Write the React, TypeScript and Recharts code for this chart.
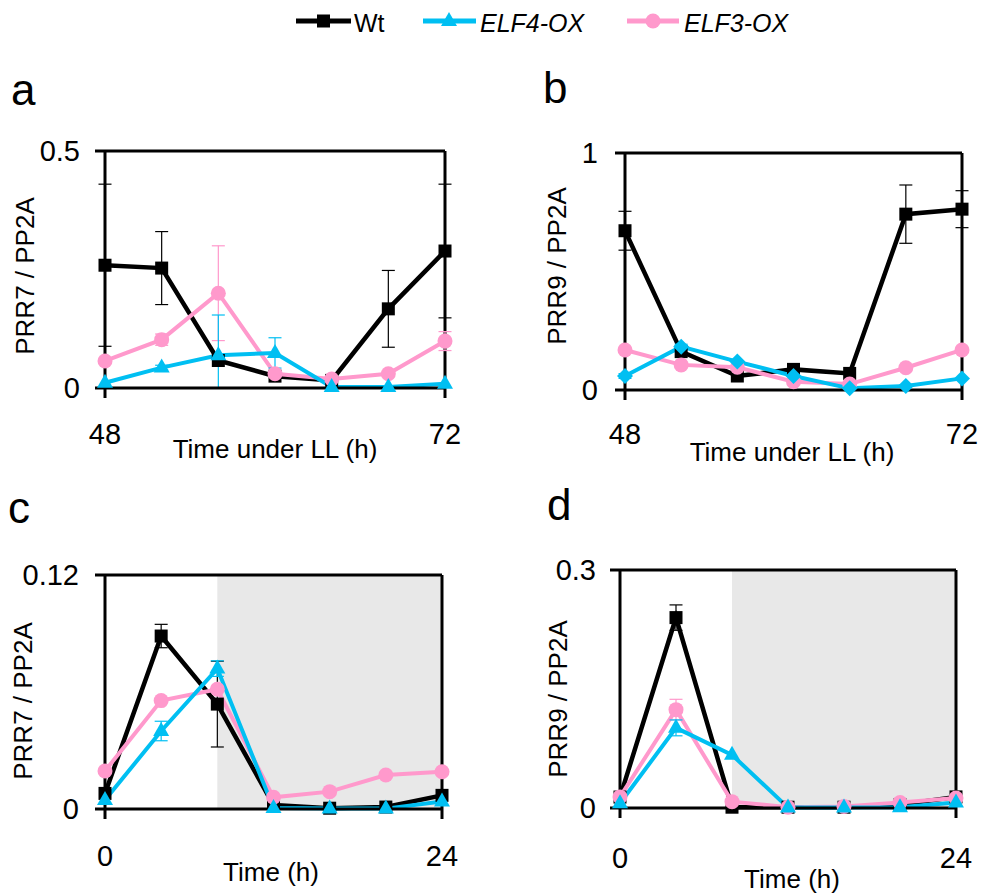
import React from "react";
import { LineChart, Line, XAxis, YAxis, ErrorBar, ReferenceLine, ReferenceArea, Label } from "recharts";

const FONT = '"Liberation Sans", Arial, sans-serif';
const BLACK = "#000000";
const CYAN = "#00bff2";
const PINK = "#ff99cc";

const hoursLL = [48, 52, 56, 60, 64, 68, 72];
const hoursLD = [0, 4, 8, 12, 16, 20, 24];

// a: PRR7 / PP2A under LL
const aWt = [0.259, 0.253, 0.058, 0.025, 0.016, 0.167, 0.289];
const aWtErr = [0.171, 0.077, 0, 0, 0, 0.081, 0.141];
const aElf4 = [0.011, 0.043, 0.069, 0.074, 0.002, 0.002, 0.009];
const aElf4Err: (number | number[])[] = [0, 0.005, [0.069, 0.085], 0.032, 0, 0, 0];
const aElf3 = [0.057, 0.102, 0.2, 0.03, 0.019, 0.03, 0.099];
const aElf3Err = [0, 0.012, 0.1, 0, 0, 0, 0.02];

// b: PRR9 / PP2A under LL
const bWt = [0.672, 0.162, 0.059, 0.087, 0.07, 0.742, 0.763];
const bWtErr = [0.082, 0, 0, 0, 0, 0.123, 0.078];
const bElf4 = [0.059, 0.183, 0.12, 0.059, 0.007, 0.017, 0.049];
const bElf4Err = [0.01, 0.01, 0, 0, 0, 0, 0];
const bElf3 = [0.169, 0.106, 0.096, 0.035, 0.025, 0.094, 0.169];
const bElf3Err = [0, 0, 0, 0, 0, 0, 0];

// c: PRR7 / PP2A under LD
const cWt = [0.008, 0.0887, 0.0538, 0.002, 0.0004, 0.001, 0.007];
const cWtErr = [0, 0.006, 0.022, 0, 0, 0, 0];
const cElf4 = [0.0046, 0.04, 0.072, 0.0005, 0.0002, 0.0002, 0.0038];
const cElf4Err = [0, 0.005, 0.004, 0, 0, 0, 0];
const cElf3 = [0.0195, 0.0556, 0.0614, 0.006, 0.0089, 0.0174, 0.0191];
const cElf3Err = [0, 0, 0, 0, 0, 0, 0];

// d: PRR9 / PP2A under LD
const dWt = [0.0138, 0.24, 0.001, 0.001, 0.001, 0.004, 0.014];
const dWtErr = [0, 0.016, 0, 0, 0, 0, 0];
const dElf4 = [0.006, 0.101, 0.067, 0.0005, 0.0005, 0.001, 0.007];
const dElf4Err = [0, 0.01, 0, 0, 0, 0, 0];
const dElf3 = [0.014, 0.124, 0.008, 0.001, 0.002, 0.007, 0.0126];
const dElf3Err = [0, 0.013, 0, 0, 0, 0, 0];

const nz = (e: number | number[]) => (Array.isArray(e) ? e : e ? e : null);

function rows(t: number[], wt: number[], wtE: any[], e4: number[], e4E: any[], e3: number[], e3E: any[]) {
  return t.map((h, i) => ({
    t: h,
    wt: wt[i],
    wtErr: nz(wtE[i]),
    elf4: e4[i],
    elf4Err: nz(e4E[i]),
    elf3: e3[i],
    elf3Err: nz(e3E[i]),
  }));
}

const squareDot = (p: any) => (
  <rect key={`s${p.index}`} x={p.cx - 6.5} y={p.cy - 6.5} width={13} height={13} fill={BLACK} />
);
const triDot = (p: any) => (
  <polygon key={`t${p.index}`} points={`${p.cx},${p.cy - 9} ${p.cx - 8},${p.cy + 5} ${p.cx + 8},${p.cy + 5}`} fill={CYAN} />
);
const diamondDot = (p: any) => (
  <polygon key={`d${p.index}`} points={`${p.cx},${p.cy - 8} ${p.cx + 8},${p.cy} ${p.cx},${p.cy + 8} ${p.cx - 8},${p.cy}`} fill={CYAN} />
);
const circleDot = (p: any) => <circle key={`c${p.index}`} cx={p.cx} cy={p.cy} r={7.5} fill={PINK} />;

type PanelProps = {
  data: any[];
  x0: number; x1: number; y0: number; y1: number;
  xDomain: [number, number];
  yMax: number;
  yLabel: string;
  xLabel: string;
  yTickMargin: number;
  xTickMargin: number;
  yLabelAt: [number, number];
  xLabelAt: [number, number];
  diamond?: boolean;
  shadeFrom?: number;
  elf3OnTop?: boolean;
};

function Panel(p: PanelProps) {
  const left = p.x0 - 100;
  const top = p.y0 - 20;
  const width = p.x1 - p.x0 + 130;
  const height = p.y1 - p.y0 + 110;
  const tickStyle = { fontSize: 29, fill: BLACK, fontFamily: FONT };
  const elf4 = (
    <Line key="e4" dataKey="elf4" stroke={CYAN} strokeWidth={4} dot={p.diamond ? diamondDot : triDot} activeDot={false} isAnimationActive={false}>
      <ErrorBar dataKey="elf4Err" direction="y" width={6.5} stroke={CYAN} strokeWidth={1.2} />
    </Line>
  );
  const elf3 = (
    <Line key="e3" dataKey="elf3" stroke={PINK} strokeWidth={4} dot={circleDot} activeDot={false} isAnimationActive={false}>
      <ErrorBar dataKey="elf3Err" direction="y" width={6.5} stroke={PINK} strokeWidth={1.2} />
    </Line>
  );
  return (
    <div style={{ position: "absolute", left, top }}>
      <LineChart width={width} height={height} data={p.data} margin={{ top: 20, right: 30, left: 40, bottom: 0 }}>
        {p.shadeFrom !== undefined && (
          <ReferenceArea x1={p.shadeFrom} x2={p.xDomain[1]} y1={0} y2={p.yMax} fill="#e8e8e8" fillOpacity={1} stroke="none" />
        )}
        <XAxis
          type="number"
          dataKey="t"
          domain={p.xDomain}
          ticks={p.xDomain}
          interval={0}
          height={90}
          tick={tickStyle}
          tickSize={10}
          tickMargin={p.xTickMargin}
          axisLine={{ stroke: BLACK, strokeWidth: 3 }}
          tickLine={{ stroke: BLACK, strokeWidth: 3 }}
        >
          <Label
            content={() => (
              <text x={p.xLabelAt[0] - left} y={p.xLabelAt[1] - top} textAnchor="middle" fontSize={26} fontFamily={FONT} fill={BLACK}>
                {p.xLabel}
              </text>
            )}
          />
        </XAxis>
        <YAxis
          type="number"
          domain={[0, p.yMax]}
          ticks={[0, p.yMax]}
          interval={0}
          width={60}
          tick={tickStyle}
          tickSize={10}
          tickMargin={p.yTickMargin}
          axisLine={{ stroke: BLACK, strokeWidth: 3 }}
          tickLine={{ stroke: BLACK, strokeWidth: 3 }}
        >
          <Label
            content={() => {
              const lx = p.yLabelAt[0] - left;
              const ly = p.yLabelAt[1] - top;
              return (
                <text
                  x={lx}
                  y={ly}
                  transform={`rotate(-90 ${lx} ${ly})`}
                  textAnchor="middle"
                  dominantBaseline="central"
                  fontSize={26}
                  fontFamily={FONT}
                  fill={BLACK}
                >
                  {p.yLabel}
                </text>
              );
            }}
          />
        </YAxis>
        <ReferenceLine y={p.yMax} stroke={BLACK} strokeWidth={3} />
        <ReferenceLine x={p.xDomain[1]} stroke={BLACK} strokeWidth={3} />
        <Line dataKey="wt" stroke={BLACK} strokeWidth={4.5} dot={squareDot} activeDot={false} isAnimationActive={false}>
          <ErrorBar dataKey="wtErr" direction="y" width={6.5} stroke={BLACK} strokeWidth={1.2} />
        </Line>
        {p.elf3OnTop ? elf4 : elf3}
        {p.elf3OnTop ? elf3 : elf4}
      </LineChart>
    </div>
  );
}

function Header() {
  const t = { fontFamily: FONT, fontSize: 25, fill: BLACK };
  return (
    <svg width={984} height={894} style={{ position: "absolute", left: 0, top: 0 }}>
      <line x1={296} y1={21} x2={351} y2={21} stroke={BLACK} strokeWidth={5} />
      <rect x={317} y={14.5} width={13} height={13} fill={BLACK} />
      <text x={354} y={31.5} {...t}>Wt</text>
      <line x1={423} y1={21} x2={476} y2={21} stroke={CYAN} strokeWidth={5} />
      <polygon points="449,12 441,26 457,26" fill={CYAN} />
      <text x={480} y={31.5} fontStyle="italic" {...t}>ELF4-OX</text>
      <line x1={627} y1={21} x2={679} y2={21} stroke={PINK} strokeWidth={5} />
      <circle cx={653} cy={21} r={7.5} fill={PINK} />
      <text x={684} y={31.5} fontStyle="italic" {...t}>ELF3-OX</text>
      <text x={11} y={105} fontFamily={FONT} fontSize={44} fill={BLACK}>a</text>
      <text x={543} y={103} fontFamily={FONT} fontSize={44} fill={BLACK}>b</text>
      <text x={8} y={523} fontFamily={FONT} fontSize={44} fill={BLACK}>c</text>
      <text x={547} y={520} fontFamily={FONT} fontSize={44} fill={BLACK}>d</text>
    </svg>
  );
}

export default function App() {
  return (
    <div style={{ position: "absolute", left: 0, top: 0, width: 984, height: 894, background: "#fff" }}>
      <Header />
      <Panel
        data={rows(hoursLL, aWt, aWtErr, aElf4, aElf4Err, aElf3, aElf3Err)}
        x0={105} x1={445} y0={151} y1={388}
        xDomain={[48, 72]} yMax={0.5}
        yLabel="PRR7 / PP2A" xLabel="Time under LL (h)"
        yTickMargin={15} xTickMargin={25}
        yLabelAt={[25, 276]} xLabelAt={[275, 458]}
      />
      <Panel
        data={rows(hoursLL, bWt, bWtErr, bElf4, bElf4Err, bElf3, bElf3Err)}
        x0={625} x1={962} y0={153} y1={390}
        xDomain={[48, 72]} yMax={1}
        yLabel="PRR9 / PP2A" xLabel="Time under LL (h)"
        yTickMargin={17} xTickMargin={23}
        yLabelAt={[557, 266]} xLabelAt={[792, 461]}
        diamond
      />
      <Panel
        data={rows(hoursLD, cWt, cWtErr, cElf4, cElf4Err, cElf3, cElf3Err)}
        x0={105} x1={442} y0={575} y1={809}
        xDomain={[0, 24]} yMax={0.12}
        yLabel="PRR7 / PP2A" xLabel="Time (h)"
        yTickMargin={16} xTickMargin={26}
        yLabelAt={[23, 701]} xLabelAt={[271, 881]}
        shadeFrom={8} elf3OnTop={false}
      />
      <Panel
        data={rows(hoursLD, dWt, dWtErr, dElf4, dElf4Err, dElf3, dElf3Err)}
        x0={620} x1={956} y0={570} y1={808}
        xDomain={[0, 24]} yMax={0.3}
        yLabel="PRR9 / PP2A" xLabel="Time (h)"
        yTickMargin={14} xTickMargin={29}
        yLabelAt={[558, 699]} xLabelAt={[792, 888]}
        shadeFrom={8}
      />
    </div>
  );
}
